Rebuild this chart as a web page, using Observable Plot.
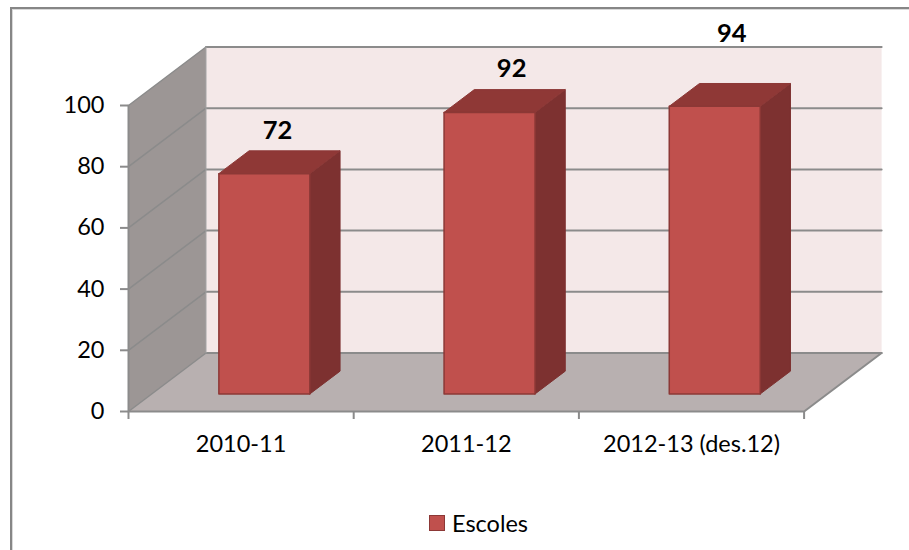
<!DOCTYPE html>
<html><head><meta charset="utf-8">
<script src="https://cdn.jsdelivr.net/npm/d3@7"></script>
<script src="https://cdn.jsdelivr.net/npm/@observablehq/plot@0.6"></script>
<style>
html,body{margin:0;padding:0;background:#fff;}
#chart{position:relative;width:909px;height:550px;overflow:hidden;font-family:Lato,sans-serif;}
#chart svg{display:block;}
#frame{position:absolute;left:10px;top:7px;right:-4px;bottom:-4px;border:2px solid #868686;border-right:none;border-bottom:none;box-shadow:inset 1px 1px 0 #d9d9d9;pointer-events:none;}
#legend{position:absolute;left:429px;top:509px;display:flex;align-items:center;gap:7px;font-size:23.5px;line-height:28px;color:#000;}
#legend i{display:block;width:14px;height:14px;background:#c0504d;border:1px solid #8c3836;}
</style></head>
<body>
<div id="chart"><div id="frame"></div></div>
<script>
const categories = ["2010-11", "2011-12", "2012-13 (des.12)"];
const values = [72, 92, 94];
const yTicks = [0, 20, 40, 60, 80, 100];
const seriesName = "Escoles";
const labelTexts = ["72", "92", "94"];

// Oblique 3D box: depth 1 is the back wall, in data units of each axis.
const unitX = 225.2, unitY = 3.06;
const depthX = 77.5 / unitX, depthY = 58.5 / unitY;
const barWidth = 0.404, depthFront = 0.3, depthBack = 0.69;
const pt = (c, v, d, id) => ({x: c + d * depthX, y: v + d * depthY, id});
const poly = (corners, opts) => Plot.line(corners, {x: "x", y: "y", ...opts});
const gridColor = "#8b8b8b";

const yTop = yTicks[yTicks.length - 1], n = categories.length;
const backWall = [pt(0,0,1), pt(n,0,1), pt(n,yTop,1), pt(0,yTop,1), pt(0,0,1)];
const leftWall = [pt(0,0,0), pt(0,0,1), pt(0,yTop,1), pt(0,yTop,0), pt(0,0,0)];
const floorFace = [pt(0,0,0), pt(n,0,0), pt(n,0,1), pt(0,0,1), pt(0,0,0)];
const wallLines = yTicks.flatMap(v => [pt(0,v,0,v), pt(0,v,1,v)]);
const backLines = yTicks.flatMap(v => [pt(0,v,1,v), pt(n,v,1,v)]);

const barMarks = values.flatMap((v, i) => {
  const a = i + 0.5 - barWidth / 2, b = a + barWidth;
  const f = depthFront, g = depthBack;
  const edge = "#8c3836";
  return [
    poly([pt(b,0,f), pt(b,0,g), pt(b,v,g), pt(b,v,f), pt(b,0,f)], {fill: "#7d3130", stroke: "#7d3130", strokeWidth: 1}),
    poly([pt(a,v,f), pt(b,v,f), pt(b,v,g), pt(a,v,g), pt(a,v,f)], {fill: "#8f3836", stroke: edge, strokeWidth: 1}),
    poly([pt(a,0,f), pt(b,0,f), pt(b,v,f), pt(a,v,f), pt(a,0,f)], {fill: "#c0504d", stroke: edge, strokeWidth: 1.5})
  ];
});

// The original's data labels were placed by hand above each bar's top face (pixels).
const labelLift = [31, 32, 61];
const labelShift = [-2, 7, 2];
const labelRows = values.map((v, i) => ({
  ...pt(i + 0.5 + labelShift[i] / unitX, v + labelLift[i] / unitY, (depthFront + depthBack) / 2),
  text: labelTexts[i]
}));

const plot = Plot.plot({
  width: 909, height: 500,
  marginLeft: 128, marginRight: 909 - (128 + n * unitX + 77.5), marginTop: 46.5, marginBottom: 89,
  style: {fontFamily: "Lato, sans-serif", fontSize: "23.5px", background: "transparent", overflow: "visible"},
  x: {type: "linear", domain: [0, n + depthX], axis: null},
  y: {type: "linear", domain: [0, yTop + depthY], axis: null},
  marks: [
    poly(backWall, {fill: "#f4e8e8", stroke: "none"}),
    poly(floorFace, {fill: "#b8b0b0", stroke: "none"}),
    poly(leftWall, {fill: "#9c9695", stroke: "none"}),
    Plot.line(backLines, {x: "x", y: "y", z: "id", stroke: gridColor, strokeWidth: 2}),
    Plot.line(wallLines, {x: "x", y: "y", z: "id", stroke: gridColor, strokeWidth: 1.5}),
    poly([pt(0,yTop,0), pt(0,0,0), pt(n,0,0), pt(n,0,1)], {stroke: gridColor, strokeWidth: 2}),
    poly([pt(0,0,1), pt(0,yTop,1)], {stroke: "#a5a5a5", strokeWidth: 1}),
    ...barMarks,
    Plot.text(labelRows, {x: "x", y: "y", text: "text", fontWeight: 700, fontSize: 25.5, fill: "#000"}),
    Plot.axisY({ticks: yTicks, tickSize: 8, tickPadding: 16, stroke: gridColor, strokeWidth: 2, fill: "#000", label: null, fontSize: 23.5}),
    Plot.ruleX(d3.range(n + 1), {y1: 0, y2: -8 / unitY, stroke: gridColor, strokeWidth: 2}),
    Plot.axisX({
      ticks: categories.map((_, i) => i + 0.5),
      tickFormat: t => categories[t - 0.5],
      tickSize: 0, tickPadding: 24, fill: "#000", label: null, fontSize: 23.5
    })
  ]
});
const chart = document.getElementById("chart");
chart.insertBefore(plot, chart.firstChild);
const legend = document.createElement("div");
legend.id = "legend";
legend.innerHTML = "<i></i><span></span>";
legend.querySelector("span").textContent = seriesName;
chart.appendChild(legend);
</script>
</body></html>
